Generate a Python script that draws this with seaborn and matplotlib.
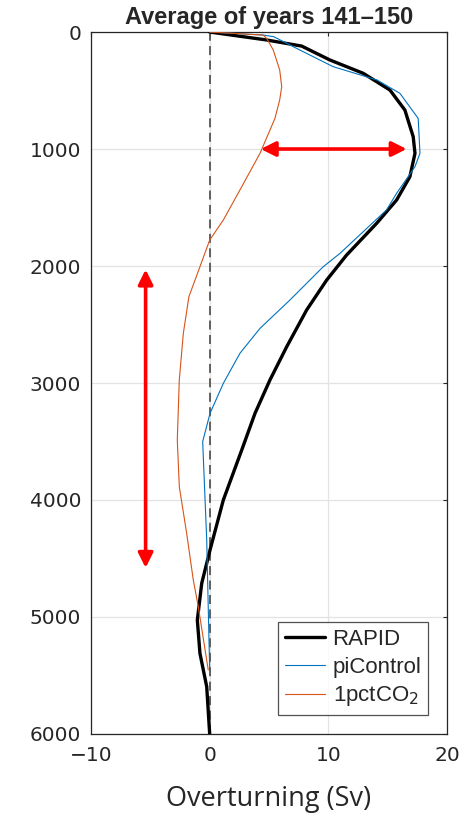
import numpy as np
import pandas as pd
import matplotlib
matplotlib.use("Agg")
import matplotlib.pyplot as plt
import seaborn as sns

# Overturning profiles (Sv) against depth (m)
rapid_depth = [0, 68, 120, 239, 353, 496, 667, 895, 1037, 1237, 1436, 1635, 1906, 2120,
               2376, 2690, 2974, 3259, 3573, 4000, 4427, 4712, 5026, 5311, 5596, 6000]
rapid_sv = [0, 4.8, 7.75, 10.13, 12.94, 15.19, 16.45, 17.15, 17.3, 16.87, 15.75, 14.07, 11.54, 9.86,
            8.17, 6.49, 5.08, 3.82, 2.70, 1.15, 0.03, -0.67, -1.04, -0.82, -0.25, 0]

pic_depth = [0, 26, 40, 154, 296, 410, 524, 738, 1037, 1151, 1379, 1521, 1892, 2006,
             2291, 2533, 2746, 3003, 3259, 3501, 4342, 5453]
pic_sv = [0, 4.5, 5.4, 7.6, 10.4, 14.1, 16.03, 17.57, 17.72, 17.3, 15.75, 14.9, 10.98, 9.57,
          6.76, 4.24, 2.55, 1.15, 0.03, -0.59, -0.25, 0]

co2_depth = [0, 26, 54, 154, 325, 467, 581, 738, 1037, 1350, 1607, 1778, 2006, 2262,
             2575, 2974, 3487, 3886, 4285, 4485, 4684, 4912, 5453]
co2_sv = [0, 4.5, 4.8, 5.36, 5.9, 6.07, 5.9, 5.5, 4.24, 2.55, 1.15, 0, -0.82, -1.75,
          -2.22, -2.56, -2.73, -2.56, -1.94, -1.66, -1.38, -0.96, -0.12]

# red double arrows: (sv, depth) end points
h_arrow = [(4.3, 1000), (16.6, 1000)]
v_arrow = [(-5.4, 2030), (-5.4, 4580)]

xticks = [-10, 0, 10, 20]
yticks = [0, 1000, 2000, 3000, 4000, 5000, 6000]

df = pd.concat([
    pd.DataFrame({"sv": rapid_sv, "depth": rapid_depth, "run": "RAPID"}),
    pd.DataFrame({"sv": pic_sv, "depth": pic_depth, "run": "piControl"}),
    pd.DataFrame({"sv": co2_sv, "depth": co2_depth, "run": "1pctCO$_2$"}),
])

sns.set_style("white")
plt.rcParams["font.family"] = ["Liberation Sans", "DejaVu Sans"]

fig = plt.figure(figsize=(4.75, 8.19), dpi=100)
ax = fig.add_axes([0.1916, 0.1038, 0.7495, 0.8571])

ax.grid(True, color="#e3e3e3", linewidth=0.9)
ax.axvline(0, color="#555555", linestyle=(0, (5, 3)), linewidth=1.3, zorder=1)

palette = {"RAPID": "black", "piControl": "#0072BD", "1pctCO$_2$": "#D95319"}
sizes = {"RAPID": 2.4, "piControl": 0.8, "1pctCO$_2$": 0.8}
sns.lineplot(data=df, x="sv", y="depth", hue="run", size="run", sizes=sizes,
             palette=palette, orient="y", sort=False, estimator=None, ax=ax, zorder=3)

for a in (h_arrow, v_arrow):
    ax.annotate("", xy=a[0], xytext=a[1],
                arrowprops=dict(arrowstyle="<|-|>", color="red", lw=2.6,
                                mutation_scale=22, shrinkA=0, shrinkB=0), zorder=4)

ax.set_xlim(-10, 20)
ax.set_ylim(6000, 0)
ax.set_xticks(xticks)
ax.set_yticks(yticks)
ax.tick_params(direction="in", length=3, top=True, right=True, colors="#262626",
               labelsize=14.5)
ax.tick_params(axis="x", pad=9)
ax.tick_params(axis="y", pad=7)
for lab in ax.get_xticklabels() + ax.get_yticklabels():
    lab.set_fontfamily(["DejaVu Sans"])
for s in ax.spines.values():
    s.set_color("#262626")
    s.set_linewidth(0.9)

ax.set_xlabel("Overturning (Sv)", fontsize=19.5, fontfamily=["Open Sans", "DejaVu Sans"],
              labelpad=14)
ax.set_ylabel("")
ax.set_title("Average of years 141\u2013150", fontsize=17, fontweight="bold", pad=6)

leg = ax.legend(loc="lower right", fontsize=16, frameon=True, fancybox=False,
                borderaxespad=0.85, handlelength=1.8, handletextpad=0.35,
                labelspacing=0.3, borderpad=0.3)
leg.get_frame().set_edgecolor("#262626")
leg.get_frame().set_linewidth(0.9)

fig.savefig("out.png", dpi=100)
